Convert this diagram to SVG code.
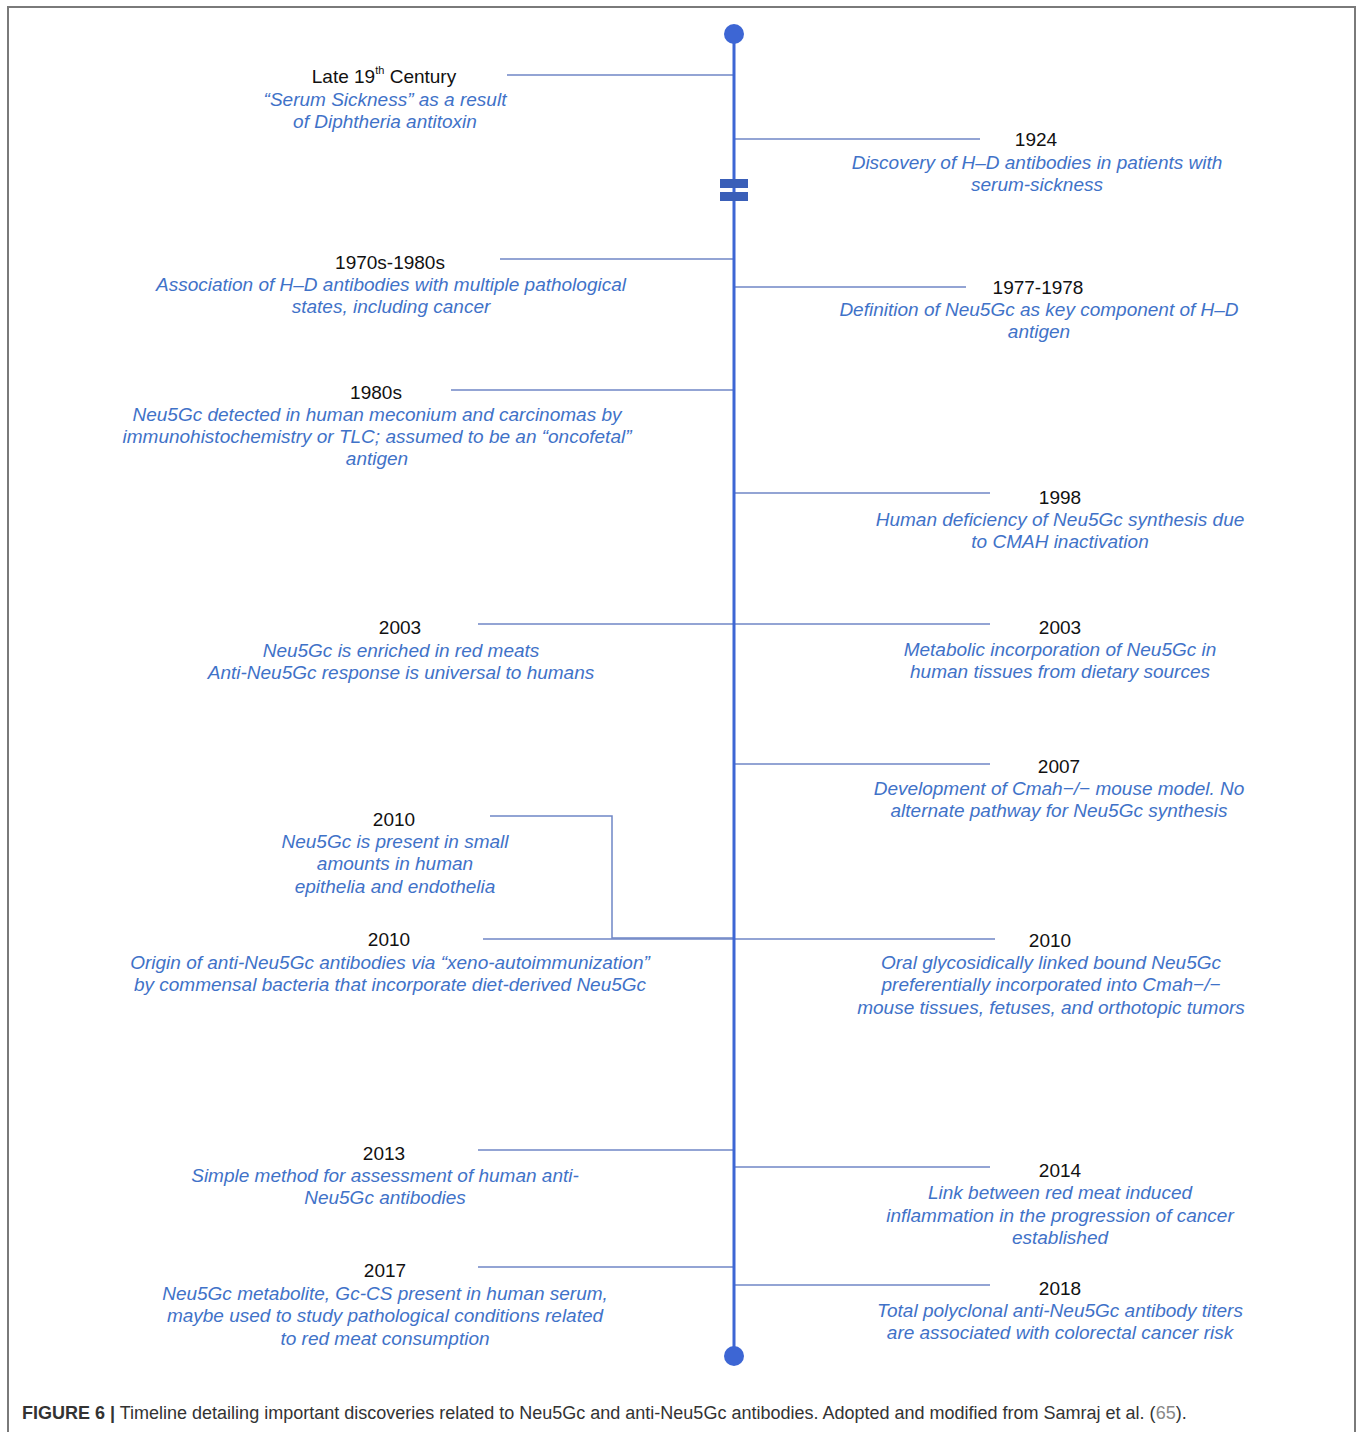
<svg xmlns="http://www.w3.org/2000/svg" width="1360" height="1432" viewBox="0 0 1360 1432">
<style>
.yr{font-family:"Liberation Sans",Arial,sans-serif;font-size:19px;fill:#111;text-anchor:middle}
.ds{font-family:"Liberation Sans",Arial,sans-serif;font-size:19px;font-style:italic;fill:#3f72c8;text-anchor:middle}
.cn{stroke:#6f86c6;stroke-width:1.5;fill:none}
.cap{font-family:"Liberation Sans",Arial,sans-serif;font-size:18px;fill:#333}
</style>
<rect width="1360" height="1432" fill="#fff"/>
<path d="M8,1432 V7 H1355 V1432" fill="none" stroke="#7a7a7a" stroke-width="2"/>

<g id="connectors">
<line class="cn" x1="507" y1="75" x2="734" y2="75"/>
<line class="cn" x1="734" y1="139" x2="980" y2="139"/>
<line class="cn" x1="500" y1="259" x2="734" y2="259"/>
<line class="cn" x1="734" y1="287" x2="966" y2="287"/>
<line class="cn" x1="451" y1="390" x2="734" y2="390"/>
<line class="cn" x1="734" y1="493" x2="990" y2="493"/>
<line class="cn" x1="478" y1="624" x2="990" y2="624"/>
<line class="cn" x1="734" y1="764" x2="990" y2="764"/>
<polyline class="cn" points="490,816 612,816 612,938 734,938"/>
<line class="cn" x1="483" y1="939" x2="995" y2="939"/>
<line class="cn" x1="478" y1="1150" x2="734" y2="1150"/>
<line class="cn" x1="734" y1="1167" x2="990" y2="1167"/>
<line class="cn" x1="478" y1="1267" x2="734" y2="1267"/>
<line class="cn" x1="734" y1="1285" x2="990" y2="1285"/>
</g>

<g id="axis">
<line x1="734" y1="34" x2="734" y2="1356" stroke="#3d66d4" stroke-width="3"/>
<circle cx="734" cy="34" r="10" fill="#3d66d4"/>
<circle cx="734" cy="1356" r="10" fill="#3d66d4"/>
<rect x="720" y="179" width="28" height="9" fill="#3a5fb8"/>
<rect x="720" y="192" width="28" height="9" fill="#3a5fb8"/>
</g>

<g id="n-late19">
<text class="yr" x="384" y="83">Late 19<tspan dy="-9" font-size="11">th</tspan><tspan dy="9"> Century</tspan></text>
<text class="ds" x="385" y="106">“Serum Sickness” as a result</text>
<text class="ds" x="385" y="128">of Diphtheria antitoxin</text>
</g>
<g id="n-1924">
<text class="yr" x="1036" y="146">1924</text>
<text class="ds" x="1037" y="169">Discovery of H–D antibodies in patients with</text>
<text class="ds" x="1037" y="191">serum-sickness</text>
</g>
<g id="n-1970s">
<text class="yr" x="390" y="269">1970s-1980s</text>
<text class="ds" x="391" y="291">Association of H–D antibodies with multiple pathological</text>
<text class="ds" x="391" y="313">states, including cancer</text>
</g>
<g id="n-1977">
<text class="yr" x="1038" y="294">1977-1978</text>
<text class="ds" x="1039" y="316">Definition of Neu5Gc as key component of H–D</text>
<text class="ds" x="1039" y="338">antigen</text>
</g>
<g id="n-1980s">
<text class="yr" x="376" y="399">1980s</text>
<text class="ds" x="377" y="421">Neu5Gc detected in human meconium and carcinomas by</text>
<text class="ds" x="377" y="443">immunohistochemistry or TLC; assumed to be an “oncofetal”</text>
<text class="ds" x="377" y="465">antigen</text>
</g>
<g id="n-1998">
<text class="yr" x="1060" y="504">1998</text>
<text class="ds" x="1060" y="526">Human deficiency of Neu5Gc synthesis due</text>
<text class="ds" x="1060" y="548">to CMAH inactivation</text>
</g>
<g id="n-2003-left">
<text class="yr" x="400" y="634">2003</text>
<text class="ds" x="401" y="657">Neu5Gc is enriched in red meats</text>
<text class="ds" x="401" y="679">Anti-Neu5Gc response is universal to humans</text>
</g>
<g id="n-2003-right">
<text class="yr" x="1060" y="634">2003</text>
<text class="ds" x="1060" y="656">Metabolic incorporation of Neu5Gc in</text>
<text class="ds" x="1060" y="678">human tissues from dietary sources</text>
</g>
<g id="n-2007">
<text class="yr" x="1059" y="773">2007</text>
<text class="ds" x="1059" y="795">Development of Cmah−/− mouse model. No</text>
<text class="ds" x="1059" y="817">alternate pathway for Neu5Gc synthesis</text>
</g>
<g id="n-2010-a">
<text class="yr" x="394" y="826">2010</text>
<text class="ds" x="395" y="848">Neu5Gc is present in small</text>
<text class="ds" x="395" y="870">amounts in human</text>
<text class="ds" x="395" y="893">epithelia and endothelia</text>
</g>
<g id="n-2010-b">
<text class="yr" x="389" y="946">2010</text>
<text class="ds" x="390" y="969">Origin of anti-Neu5Gc antibodies via “xeno-autoimmunization”</text>
<text class="ds" x="390" y="991">by commensal bacteria that incorporate diet-derived Neu5Gc</text>
</g>
<g id="n-2010-right">
<text class="yr" x="1050" y="947">2010</text>
<text class="ds" x="1051" y="969">Oral glycosidically linked bound Neu5Gc</text>
<text class="ds" x="1051" y="991">preferentially incorporated into Cmah−/−</text>
<text class="ds" x="1051" y="1014">mouse tissues, fetuses, and orthotopic tumors</text>
</g>
<g id="n-2013">
<text class="yr" x="384" y="1160">2013</text>
<text class="ds" x="385" y="1182">Simple method for assessment of human anti-</text>
<text class="ds" x="385" y="1204">Neu5Gc antibodies</text>
</g>
<g id="n-2014">
<text class="yr" x="1060" y="1177">2014</text>
<text class="ds" x="1060" y="1199">Link between red meat induced</text>
<text class="ds" x="1060" y="1222">inflammation in the progression of cancer</text>
<text class="ds" x="1060" y="1244">established</text>
</g>
<g id="n-2017">
<text class="yr" x="385" y="1277">2017</text>
<text class="ds" x="385" y="1300">Neu5Gc metabolite, Gc-CS present in human serum,</text>
<text class="ds" x="385" y="1322">maybe used to study pathological conditions related</text>
<text class="ds" x="385" y="1345">to red meat consumption</text>
</g>
<g id="n-2018">
<text class="yr" x="1060" y="1295">2018</text>
<text class="ds" x="1060" y="1317">Total polyclonal anti-Neu5Gc antibody titers</text>
<text class="ds" x="1060" y="1339">are associated with colorectal cancer risk</text>
</g>

<text class="cap" x="22" y="1419"><tspan font-weight="bold">FIGURE 6 |</tspan> Timeline detailing important discoveries related to Neu5Gc and anti-Neu5Gc antibodies. Adopted and modified from Samraj et al. (<tspan fill="#888">65</tspan>).</text>
</svg>
